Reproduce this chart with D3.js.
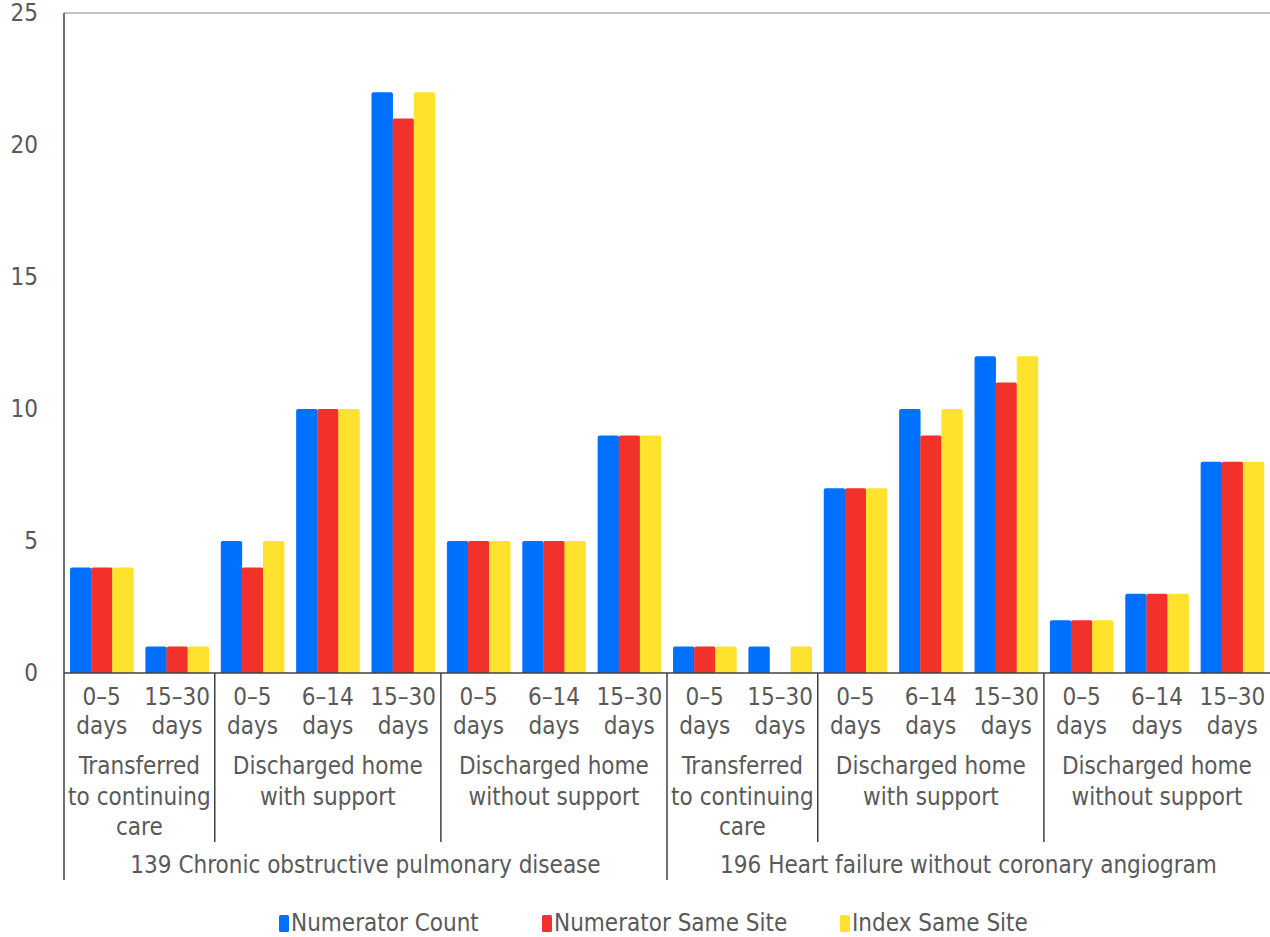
<!DOCTYPE html>
<html><head><meta charset="utf-8">
<script src="https://cdn.jsdelivr.net/npm/d3@7/dist/d3.min.js"></script>
<style>
body{margin:0;background:#fff;}
text{font-family:"DejaVu Sans Condensed","DejaVu Sans",sans-serif;fill:#595959;font-size:24px;}
</style></head>
<body><svg id="chart" width="1270" height="937"></svg>
<script>
// Leaf categories (length-of-stay bands), with their discharge and condition groups
const periods = ["0–5 days","15–30 days","0–5 days","6–14 days","15–30 days","0–5 days","6–14 days","15–30 days",
                 "0–5 days","15–30 days","0–5 days","6–14 days","15–30 days","0–5 days","6–14 days","15–30 days"];
const dischargeGroups = [
  {label:["Transferred","to continuing","care"], n:2},
  {label:["Discharged home","with support"], n:3},
  {label:["Discharged home","without support"], n:3},
  {label:["Transferred","to continuing","care"], n:2},
  {label:["Discharged home","with support"], n:3},
  {label:["Discharged home","without support"], n:3}
];
const conditions = [
  {label:"139 Chronic obstructive pulmonary disease", n:8},
  {label:"196 Heart failure without coronary angiogram", n:8}
];
const seriesNames = ["Numerator Count","Numerator Same Site","Index Same Site"];
const numeratorCount    = [4,1,5,10,22,5,5,9, 1,1,7,10,12,2,3,8];
const numeratorSameSite = [4,1,4,10,21,5,5,9, 1,0,7,9,11,2,3,8];
const indexSameSite     = [4,1,5,10,22,5,5,9, 1,1,7,10,12,2,3,8];
const yTicks = [0,5,10,15,20,25];
const colors = ["#0070ff","#f2322a","#ffe22e"];

const svg = d3.select("#chart");
const plotLeft = 64, plotRight = 1270, plotTop = 13, base = 673;
const idx = d3.range(periods.length);
const x = d3.scaleBand().domain(idx).range([plotLeft,plotRight]).paddingInner(0.16).paddingOuter(0.08);
const xs = d3.scaleBand().domain(d3.range(3)).range([0, x.bandwidth()]);
const y = d3.scaleLinear().domain([0,25]).range([base, plotTop]);
const step = (plotRight-plotLeft)/periods.length;
const values = [numeratorCount, numeratorSameSite, indexSameSite];

// Bar outline with slightly rounded top corners
function barPath(x0, w, yTop, yBase) {
  const h = yBase - yTop;
  if (h <= 0) return "";
  const r = Math.min(2, h/2, w/2);
  return `M${x0},${yBase}V${yTop+r}Q${x0},${yTop} ${x0+r},${yTop}H${x0+w-r}Q${x0+w},${yTop} ${x0+w},${yTop+r}V${yBase}Z`;
}

// Y axis tick labels
svg.append("g").selectAll("text").data(yTicks).join("text")
  .attr("x",38).attr("y",d=>y(d)).attr("dy","0.35em").attr("text-anchor","end")
  .text(d=>d);

// Top frame line
svg.append("line").attr("x1",plotLeft).attr("x2",plotRight).attr("y1",y(25)).attr("y2",y(25))
  .attr("stroke","#b0b0b0").attr("stroke-width",1.5);

// Bars
idx.forEach(i=>{
  svg.append("g").selectAll("path").data(values.map((v,s)=>({s,v:v[i]}))).join("path")
    .attr("d",d=>barPath(x(i)+xs(d.s), xs.bandwidth()+0.3, y(d.v), base))
    .attr("fill",d=>colors[d.s]);
});

// Axes lines
svg.append("line").attr("x1",plotLeft).attr("x2",plotRight).attr("y1",base).attr("y2",base)
  .attr("stroke","#404040").attr("stroke-width",1.5);
svg.append("line").attr("x1",plotLeft).attr("x2",plotLeft).attr("y1",plotTop).attr("y2",880)
  .attr("stroke","#404040").attr("stroke-width",1.5);

// Leaf category labels
const leaf = svg.append("g");
idx.forEach(i=>{
  const cx = plotLeft + step*(i+0.5);
  const parts = periods[i].split(" ");
  leaf.append("text").attr("x",cx).attr("y",705).attr("text-anchor","middle").text(parts[0]);
  leaf.append("text").attr("x",cx).attr("y",734).attr("text-anchor","middle").text(parts[1]);
});

// Discharge group labels and separators
let start = 0;
dischargeGroups.forEach((g,gi)=>{
  const x0 = plotLeft + step*start, x1 = plotLeft + step*(start+g.n);
  g.label.forEach((t,li)=>{
    svg.append("text").attr("x",(x0+x1)/2).attr("y",774+li*30.5).attr("text-anchor","middle").text(t);
  });
  if (gi>0 && start!==8) {
    svg.append("line").attr("x1",x0).attr("x2",x0).attr("y1",base).attr("y2",842)
      .attr("stroke","#404040").attr("stroke-width",1.5);
  }
  start += g.n;
});

// Condition labels and separator
start = 0;
conditions.forEach((c,ci)=>{
  const x0 = plotLeft + step*start, x1 = plotLeft + step*(start+c.n);
  svg.append("text").attr("x",(x0+x1)/2).attr("y",873).attr("text-anchor","middle").text(c.label);
  if (ci>0) {
    svg.append("line").attr("x1",x0).attr("x2",x0).attr("y1",base).attr("y2",880)
      .attr("stroke","#404040").attr("stroke-width",1.5);
  }
  start += c.n;
});

// Legend
const legendX = [279, 542, 840];
const lg = svg.append("g");
seriesNames.forEach((n,i)=>{
  lg.append("rect").attr("x",legendX[i]).attr("y",915).attr("width",10).attr("height",17).attr("rx",1.5).attr("fill",colors[i]);
  lg.append("text").attr("x",legendX[i]+12).attr("y",931).text(n);
});
</script></body></html>
